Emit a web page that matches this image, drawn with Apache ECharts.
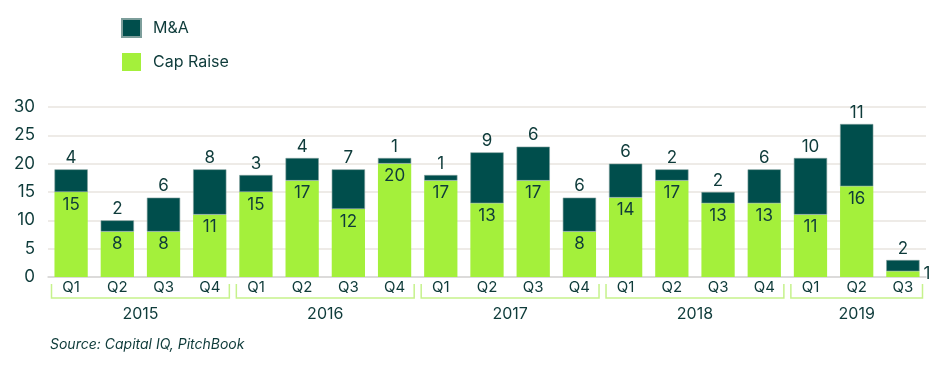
<!DOCTYPE html>
<html><head><meta charset="utf-8">
<script src="https://cdn.jsdelivr.net/npm/echarts@6/dist/echarts.min.js"></script>
<style>html,body{margin:0;padding:0;background:#fff}#c{width:945px;height:365px}</style>
</head><body><div id="c"></div>
<script>
const years = ['2015','2016','2017','2018','2019'];
const quartersPerYear = [4,4,4,4,3];
const quarters = ['Q1','Q2','Q3','Q4','Q1','Q2','Q3','Q4','Q1','Q2','Q3','Q4','Q1','Q2','Q3','Q4','Q1','Q2','Q3'];
const capRaise = [15,8,8,11, 15,17,12,20, 17,13,17,8, 14,17,13,13, 11,16,1];
const mna = [4,2,6,8, 3,4,7,1, 1,9,6,6, 6,2,2,6, 10,11,2];
const yTicks = [0,5,10,15,20,25,30];

const TXT = '#0e3b3a';
const FONT = 'Inter';
const chart = echarts.init(document.getElementById('c'));
const option = {
  animation:false,
  textStyle:{fontFamily:FONT,color:TXT},
  legend:{
    orient:'vertical', left:121, top:18, padding:0, itemWidth:19, itemHeight:18, itemGap:15,
    icon:'rect', data:['M&A','Cap Raise'],
    textStyle:{fontSize:16,color:TXT,fontFamily:FONT,padding:[0,0,0,7]}
  },
  grid:{left:48,right:19,top:107,bottom:88},
  xAxis:{
    type:'category', data:quarters,
    axisLine:{lineStyle:{color:'#d6d6d6',width:1.5}},
    axisTick:{show:false},
    axisLabel:{fontSize:15,color:TXT,margin:3,fontFamily:FONT}
  },
  yAxis:{
    type:'value', min:yTicks[0], max:yTicks[yTicks.length-1], interval:5,
    axisLine:{show:false}, axisTick:{show:false},
    splitLine:{lineStyle:{color:'#e8e5df',width:1.5}},
    axisLabel:{fontSize:17,color:TXT,margin:13,fontFamily:FONT}
  },
  series:[
    {name:'Cap Raise', type:'bar', stack:'a', barCategoryGap:'28%',
     itemStyle:{color:'#a4f03b'},
     label:{show:true,position:'insideTop',distance:4,fontSize:17,color:TXT,fontFamily:FONT},
     data:capRaise.map(v=> v<3 ? {value:v,label:{position:'right',distance:4}} : v)
    },
    {name:'M&A', type:'bar', stack:'a',
     itemStyle:{color:'#004e4c',borderColor:'#7d9e9b',borderWidth:0.6},
     label:{show:true,position:'top',distance:3,fontSize:17,color:TXT,fontFamily:FONT},
     data:mna
    }
  ]
};
chart.setOption(option);

// Year brackets and labels
const p0 = chart.convertToPixel({xAxisIndex:0},0);
const p1 = chart.convertToPixel({xAxisIndex:0},1);
const half = (p1-p0)/2;
const zeroY = chart.convertToPixel({yAxisIndex:0},0);
const lineY = zeroY + 21, tickTop = zeroY + 7;
const g = [];
let idx = 0;
years.forEach((yr,i)=>{
  const n = quartersPerYear[i];
  const x1 = chart.convertToPixel({xAxisIndex:0},idx) - half + 3.5;
  const x2 = chart.convertToPixel({xAxisIndex:0},idx+n-1) + half - 3.5;
  g.push({type:'polyline',shape:{points:[[x1,tickTop],[x1,lineY],[x2,lineY],[x2,tickTop]]},
    style:{stroke:'#c6f28c',lineWidth:1.5,fill:null},silent:true});
  g.push({type:'text',x:(x1+x2)/2,y:lineY+16,style:{text:yr,fontSize:16,fill:TXT,fontFamily:FONT,align:'center',verticalAlign:'middle'}});
  idx += n;
});
g.push({type:'text',left:50,top:338,style:{text:'Source: Capital IQ, PitchBook',fontSize:14,fontStyle:'italic',fill:TXT,fontFamily:FONT}});
chart.setOption({graphic:g});
</script></body></html>
